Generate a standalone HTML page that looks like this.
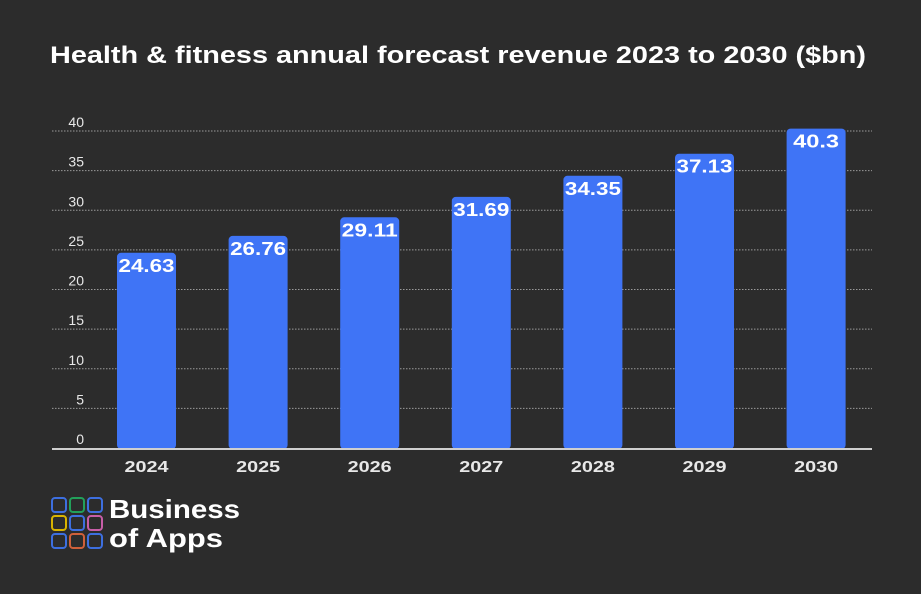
<!DOCTYPE html>
<html><head><meta charset="utf-8"><style>
html,body{margin:0;padding:0;background:#2c2c2c;}
svg{display:block;font-family:"Liberation Sans",sans-serif;}
</style></head><body>
<svg id="chart" width="921" height="594" viewBox="0 0 921 594">
<rect x="0" y="0" width="921" height="594" fill="#2c2c2c"/>
<text x="50" y="63" textLength="816" lengthAdjust="spacingAndGlyphs" fill="#ffffff" font-size="24" font-weight="bold">Health &amp; fitness annual forecast revenue 2023 to 2030 ($bn)</text>
<g id="grid"></g><g id="bars"></g><g id="xlabels"></g>
<line x1="52" y1="449" x2="872" y2="449" stroke="#cfcfcf" stroke-width="2"/>
<g>
<rect x="52" y="498" width="14" height="14" rx="3" fill="none" stroke="#3d6fe0" stroke-width="2"/>
<rect x="70" y="498" width="14" height="14" rx="3" fill="none" stroke="#22a05a" stroke-width="2"/>
<rect x="88" y="498" width="14" height="14" rx="3" fill="none" stroke="#3d6fe0" stroke-width="2"/>
<rect x="52" y="516" width="14" height="14" rx="3" fill="none" stroke="#d9b400" stroke-width="2"/>
<rect x="70" y="516" width="14" height="14" rx="3" fill="none" stroke="#3d6fe0" stroke-width="2"/>
<rect x="88" y="516" width="14" height="14" rx="3" fill="none" stroke="#c85ea8" stroke-width="2"/>
<rect x="52" y="534" width="14" height="14" rx="3" fill="none" stroke="#3d6fe0" stroke-width="2"/>
<rect x="70" y="534" width="14" height="14" rx="3" fill="none" stroke="#d0603a" stroke-width="2"/>
<rect x="88" y="534" width="14" height="14" rx="3" fill="none" stroke="#3d6fe0" stroke-width="2"/>
<text x="109" y="518" textLength="131" lengthAdjust="spacingAndGlyphs" fill="#fff" font-size="26" font-weight="bold">Business</text>
<text x="109" y="547" textLength="114" lengthAdjust="spacingAndGlyphs" fill="#fff" font-size="26" font-weight="bold">of Apps</text>
</g>
</svg>
<script>
const categories=["2024","2025","2026","2027","2028","2029","2030"];
const values=[24.63,26.76,29.11,31.69,34.35,37.13,40.3];
const valueLabels=["24.63","26.76","29.11","31.69","34.35","37.13","40.3"];
const yTicks=[0,5,10,15,20,25,30,35,40];
const NS="http://www.w3.org/2000/svg";
function y(v){return 448-v*(317/40);}
function xc(i){return 146.5+i*111.6;}
const grid=document.getElementById('grid'),bars=document.getElementById('bars'),xl=document.getElementById('xlabels');
yTicks.forEach(t=>{
 if(t>0){const l=document.createElementNS(NS,'line');
 l.setAttribute('x1',52);l.setAttribute('x2',872);l.setAttribute('y1',y(t));l.setAttribute('y2',y(t));
 l.setAttribute('stroke','#9a9a9a');l.setAttribute('stroke-width','1');l.setAttribute('stroke-dasharray','1.5 1.5');
 
 
 grid.appendChild(l);}
 const tx=document.createElementNS(NS,'text');
 tx.setAttribute('x',84);tx.setAttribute('y',y(t)-4);tx.setAttribute('text-anchor','end');
 tx.setAttribute('fill','#e8e8e8');tx.setAttribute('font-size','14');tx.textContent=t;
 
 
 grid.appendChild(tx);
});
values.forEach((v,i)=>{
 const r=document.createElementNS(NS,'rect');
 r.setAttribute('x',xc(i)-29.5);r.setAttribute('width',59);r.setAttribute('y',y(v));r.setAttribute('height',448-y(v)+1);
 r.setAttribute('rx',4);r.setAttribute('fill','#3f74f6');
 
 
 bars.appendChild(r);
 const t=document.createElementNS(NS,'text');
 const w=valueLabels[i].length>4?56:46;
 t.setAttribute('x',xc(i)-w/2);t.setAttribute('y',y(v)+19);
 t.setAttribute('textLength',w);t.setAttribute('lengthAdjust','spacingAndGlyphs');
 t.setAttribute('fill','#fff');t.setAttribute('font-size','18');t.setAttribute('font-weight','bold');t.textContent=valueLabels[i];
 
 
 bars.appendChild(t);
 const c=document.createElementNS(NS,'text');
 c.setAttribute('x',xc(i)-22);c.setAttribute('y',472);
 c.setAttribute('textLength',44);c.setAttribute('lengthAdjust','spacingAndGlyphs');
 c.setAttribute('fill','#e8e8e8');c.setAttribute('font-size','16');c.setAttribute('font-weight','bold');c.textContent=categories[i];
 
 
 xl.appendChild(c);
});
</script>
</body></html>
